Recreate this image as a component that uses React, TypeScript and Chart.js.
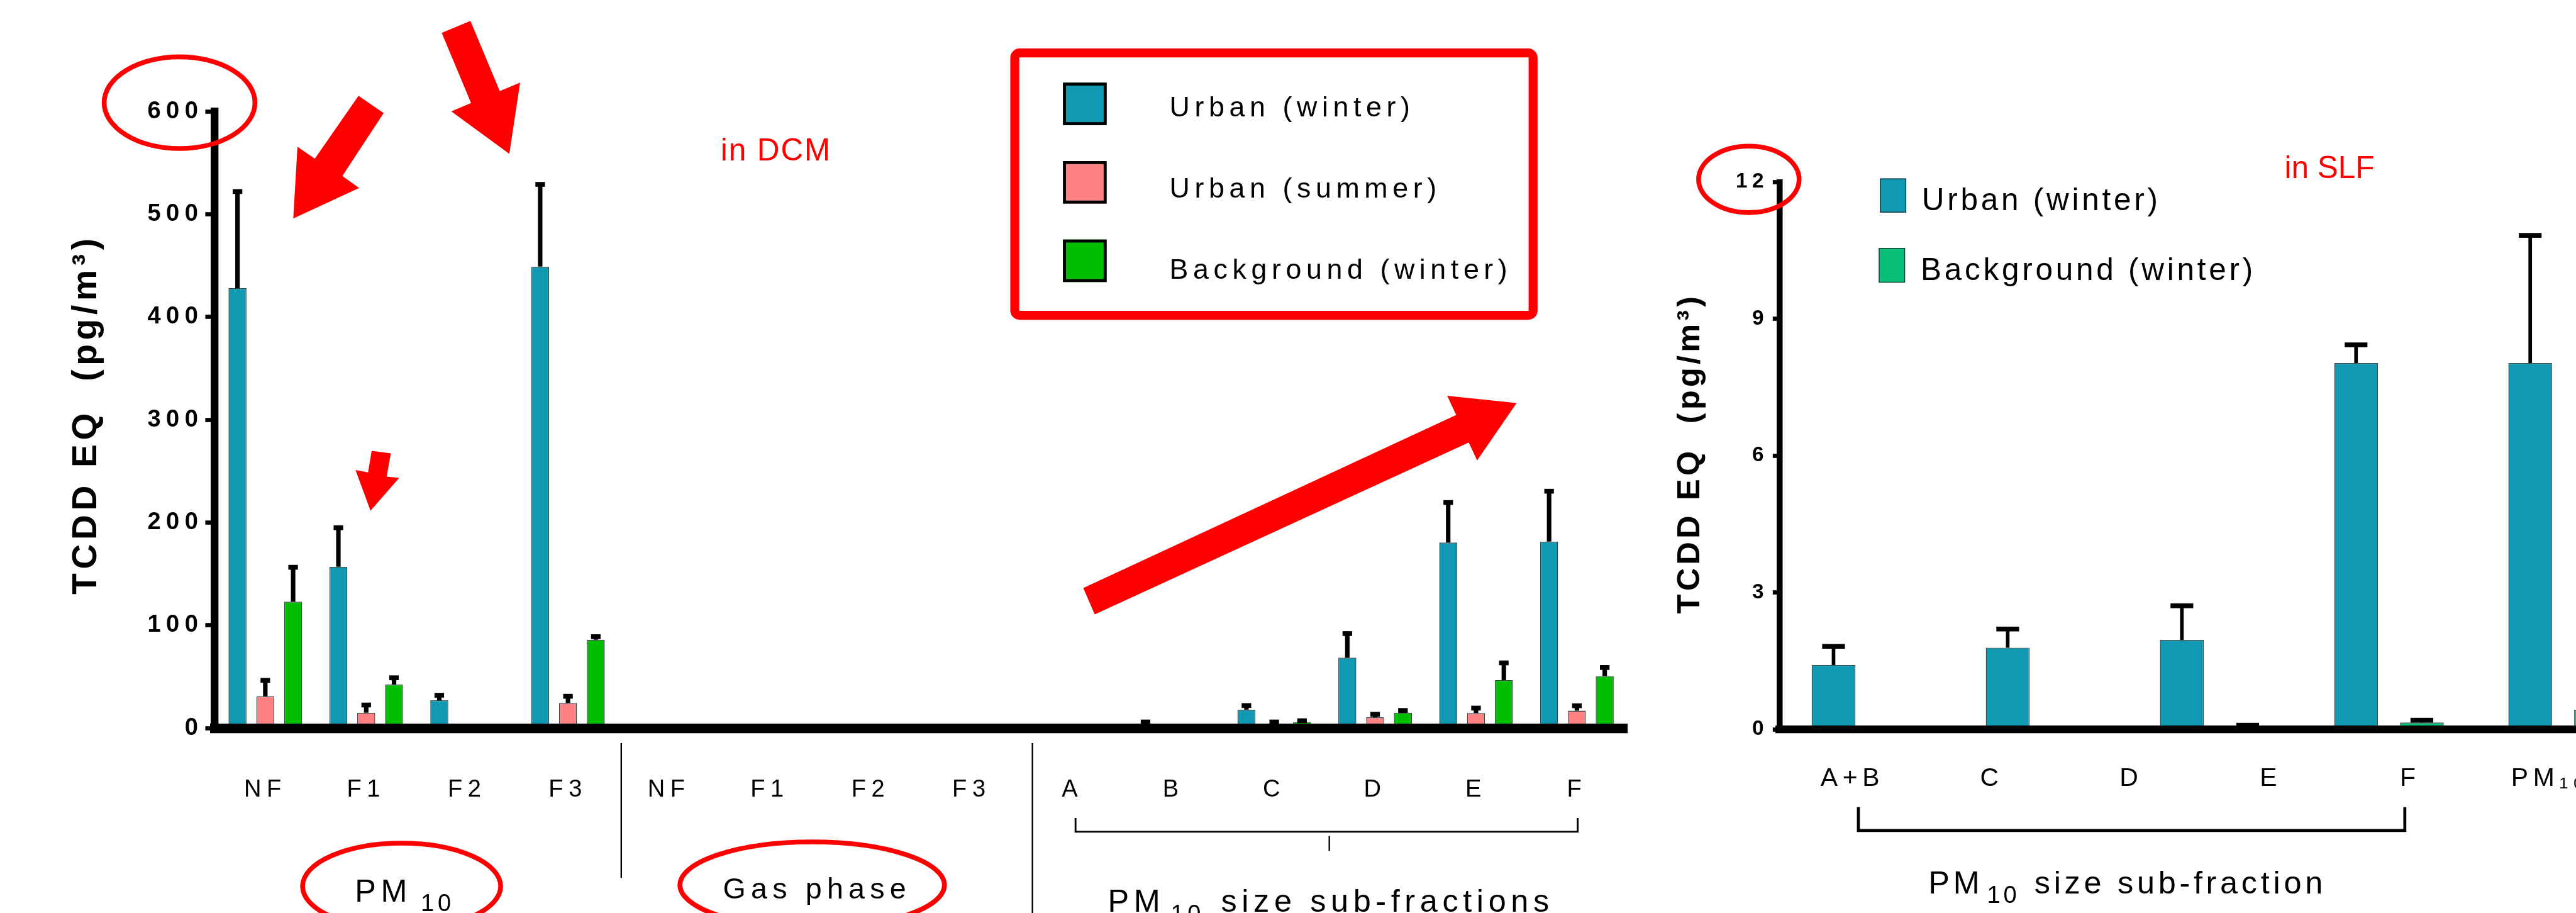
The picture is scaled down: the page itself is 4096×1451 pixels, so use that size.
import React, { useEffect, useRef } from 'react';
import { Chart, registerables } from 'chart.js';

Chart.register(...registerables);

const S = 4096 / 4304;
const VIEW_W = 4096;
const VIEW_H = 1451;
const FONT = '"Liberation Sans", Arial, Helvetica, sans-serif';

const TEAL = '#1099b3';
const PINK = '#ff8282';
const GREEN = '#00be00';
const SEA_GREEN = '#0abf78';
const RED = '#ff0000';
const EDGE = 'rgba(20,40,45,0.85)';

// ---------- Left panel: TCDD EQ in DCM (pg/m3) ----------
const dcmCategories = ['NF', 'F1', 'F2', 'F3', 'NF', 'F1', 'F2', 'F3', 'A', 'B', 'C', 'D', 'E', 'F'];
const dcmUrbanWinter = [428, 157, 27, 449, 0, 0, 0, 0, 0, 0, 18, 68.5, 180.5, 181.5];
const dcmUrbanWinterSD = [94, 38, 5, 80, 0, 0, 0, 0, 0, 6, 4, 23.5, 39, 49];
const dcmUrbanSummer = [31, 15, 0, 24.5, 0, 0, 0, 0, 0, 0, 2, 10.5, 14.7, 17];
const dcmUrbanSummerSD = [15.5, 7.5, 0, 6.5, 0, 0, 0, 0, 0, 0, 4, 3, 4.8, 4.8];
const dcmBackgroundWinter = [123, 42.5, 0, 86, 0, 0, 0, 0, 0, 0, 6, 15, 46.7, 50.7];
const dcmBackgroundWinterSD = [33.5, 6.5, 0, 3, 0, 0, 0, 0, 0, 0, 1.2, 2.2, 16.8, 8.3];
const dcmAxisMax = 600;
const dcmAxisStep = 100;

// ---------- Right panel: TCDD EQ in SLF (pg/m3) ----------
const slfTickLabels = ['A+B', 'C', 'D', 'E', 'F', 'PM\u2081\u2080'];
const slfCategories = slfTickLabels.slice(0, 5);
const slfUrbanWinter = [1.41, 1.79, 1.96, 8.03, 8.03];
const slfUrbanWinterSD = [0.41, 0.41, 0.75, 0.4, 2.8];
const slfBackgroundWinter = [0, 0, 0.02, 0.15, 0.43];
const slfBackgroundWinterSD = [0, 0, 0.07, 0.05, 0];
const slfAxisMax = 12;
const slfAxisStep = 3;

const seriesNames = ['Urban (winter)', 'Urban (summer)', 'Background (winter)'];
const yTitle = 'TCDD EQ  (pg/m\u00b3)';

// canvas geometry (device px)
const L_W = Math.round(2760 * S);
const R_LEFT = 2608;
const R_W = 1640;
const R_X0 = R_LEFT / S; // reference x of right canvas origin

type Pt = [number, number];

function painter(ctx: CanvasRenderingContext2D, x0: number) {
  const X = (v: number) => (v - x0) * S;
  const Y = (v: number) => v * S;
  const font = (size: number, weight = 'normal') => `${weight} ${size * S}px ${FONT}`;
  return {
    text(t: string, x: number, y: number, size: number, o: any = {}) {
      ctx.save();
      ctx.font = font(size, o.weight);
      ctx.fillStyle = o.color ?? '#000';
      ctx.textAlign = o.align ?? 'left';
      ctx.textBaseline = 'alphabetic';
      (ctx as any).letterSpacing = `${(o.spacing ?? 0) * S}px`;
      ctx.fillText(t, X(x), Y(y));
      ctx.restore();
    },
    vtext(t: string, x: number, y: number, size: number, o: any = {}) {
      ctx.save();
      ctx.translate(X(x), Y(y));
      ctx.rotate(-Math.PI / 2);
      ctx.font = font(size, o.weight);
      ctx.fillStyle = o.color ?? '#000';
      ctx.textAlign = 'center';
      ctx.textBaseline = 'alphabetic';
      (ctx as any).letterSpacing = `${(o.spacing ?? 0) * S}px`;
      ctx.fillText(t, 0, 0);
      ctx.restore();
    },
    poly(pts: Pt[], color = RED) {
      ctx.save();
      ctx.beginPath();
      pts.forEach(([x, y], i) => (i ? ctx.lineTo(X(x), Y(y)) : ctx.moveTo(X(x), Y(y))));
      ctx.closePath();
      ctx.fillStyle = color;
      ctx.fill();
      ctx.restore();
    },
    ellipse(cx: number, cy: number, rx: number, ry: number, lw = 8, color = RED) {
      ctx.save();
      ctx.beginPath();
      ctx.ellipse(X(cx), Y(cy), rx * S, ry * S, 0, 0, Math.PI * 2);
      ctx.lineWidth = lw * S;
      ctx.strokeStyle = color;
      ctx.stroke();
      ctx.restore();
    },
    line(pts: Pt[], lw: number, color = '#000') {
      ctx.save();
      ctx.beginPath();
      pts.forEach(([x, y], i) => (i ? ctx.lineTo(X(x), Y(y)) : ctx.moveTo(X(x), Y(y))));
      ctx.lineWidth = lw * S;
      ctx.strokeStyle = color;
      ctx.lineCap = 'butt';
      ctx.lineJoin = 'miter';
      ctx.stroke();
      ctx.restore();
    },
    swatch(x: number, y: number, w: number, h: number, fill: string, lw: number, edge = '#000') {
      ctx.save();
      ctx.fillStyle = fill;
      ctx.fillRect(X(x), Y(y), w * S, h * S);
      ctx.lineWidth = lw * S;
      ctx.strokeStyle = edge;
      ctx.strokeRect(X(x + lw / 2), Y(y + lw / 2), (w - lw) * S, (h - lw) * S);
      ctx.restore();
    },
    roundBox(x: number, y: number, w: number, h: number, r: number, lw: number, color = RED) {
      ctx.save();
      ctx.beginPath();
      (ctx as any).roundRect(X(x), Y(y), w * S, h * S, r * S);
      ctx.lineWidth = lw * S;
      ctx.strokeStyle = color;
      ctx.stroke();
      ctx.restore();
    },
  };
}

const textSpacing = (px: number) => ({
  id: 'textSpacing',
  beforeDraw(chart: any) {
    chart.ctx.letterSpacing = `${px * S}px`;
  },
  afterDraw(chart: any) {
    chart.ctx.letterSpacing = '0px';
  },
});

const errorBars = (errs: number[][], lw: number, capW: number, capH: number) => ({
  id: 'errorBars',
  afterDatasetsDraw(chart: any) {
    const ctx = chart.ctx as CanvasRenderingContext2D;
    const y = chart.scales.y;
    ctx.save();
    ctx.fillStyle = '#000';
    chart.data.datasets.forEach((ds: any, i: number) => {
      const sd = errs[i];
      if (!sd) return;
      const meta = chart.getDatasetMeta(i);
      meta.data.forEach((el: any, j: number) => {
        const e = sd[j];
        if (!e) return;
        const v = ds.data[j] as number;
        const yTop = y.getPixelForValue(v + e);
        const yBar = y.getPixelForValue(v);
        ctx.fillRect(el.x - (lw * S) / 2, yTop, lw * S, yBar - yTop);
        ctx.fillRect(el.x - (capW * S) / 2, yTop - (capH * S) / 2, capW * S, capH * S);
      });
    });
    ctx.restore();
  },
});

const leftDecor = {
  id: 'leftDecor',
  afterDraw(chart: any) {
    const p = painter(chart.ctx, 0);
    // y title
    p.vtext(yTitle, 161, 692, 58, { weight: 'bold', spacing: 7 });
    // circled max value
    p.ellipse(300, 171.5, 126, 76.5);
    // arrows
    p.poly([[599, 160], [641, 189], [572, 294], [600, 314], [490, 365], [497, 245], [526, 265]]);
    p.poly([[738, 55], [786, 35], [835, 152], [869, 138], [851, 257], [754, 186], [787, 172]]);
    p.poly([[621, 753], [653, 757], [646, 796], [667, 798], [619, 853], [594, 785], [615, 789]]);
    p.poly([[1810, 982], [2433, 693], [2418, 661], [2534, 673], [2468, 769], [2454, 739], [1829, 1026]]);
    // annotation
    p.text('in DCM', 1204, 268, 52, { color: RED, spacing: 2 });
    // legend
    p.roundBox(1695.5, 88.5, 866, 438, 8, 15);
    const cols = [TEAL, PINK, GREEN];
    const swY = [138, 269, 400];
    const txY = [194, 330, 465];
    seriesNames.forEach((n, i) => {
      p.swatch(1776, swY[i], 73, 71, cols[i], 5);
      p.text(n, 1954, txY[i], 47, { spacing: 8 });
    });
    // separators and bracket
    p.line([[1038, 1241], [1038, 1466]], 2.5);
    p.line([[1725, 1241], [1725, 1530]], 2.5);
    p.line([[1797, 1366], [1797, 1389], [2636, 1389], [2636, 1366]], 3);
    p.line([[2221, 1396], [2221, 1421]], 2.5);
    // group labels
    p.ellipse(671, 1480, 165.5, 72);
    p.text('PM', 593, 1506, 53, { spacing: 8 });
    p.text('10', 703, 1522, 40, { spacing: 6 });
    p.ellipse(1357, 1478, 221, 72);
    p.text('Gas phase', 1208, 1500, 49, { spacing: 8.6 });
    p.text('PM', 1851, 1523, 53, { spacing: 8 });
    p.text('10', 1956, 1539, 40, { spacing: 6 });
    p.text('size sub-fractions', 2040, 1523, 53, { spacing: 8 });
  },
};

const rightDecor = {
  id: 'rightDecor',
  afterDraw(chart: any) {
    const p = painter(chart.ctx, R_X0);
    p.vtext(yTitle, 2839, 757, 53, { weight: 'bold', spacing: 5.5 });
    p.ellipse(2922, 299.5, 84, 55.5);
    p.swatch(3141, 298, 44, 57, TEAL, 1.5, EDGE);
    p.text(seriesNames[0], 3211, 351, 52, { spacing: 5 });
    p.swatch(3139, 414, 44, 58, SEA_GREEN, 1.5, EDGE);
    p.text(seriesNames[2], 3209, 468, 52, { spacing: 5 });
    p.text('in SLF', 3817, 297, 52, { color: RED });
    p.line([[3105, 1348], [3105, 1387], [4018, 1387], [4018, 1348]], 5);
    p.text('PM', 3222, 1492, 53, { spacing: 6 });
    p.text('10', 3320, 1508, 40, { spacing: 5 });
    p.text('size sub-fraction', 3399, 1492, 53, { spacing: 6 });
  },
};

function barSet(label: string, data: number[], color: string, cp: number, bp: number) {
  return {
    label,
    data,
    backgroundColor: color,
    borderColor: EDGE,
    borderWidth: 1.5 * S,
    categoryPercentage: cp,
    barPercentage: bp,
  };
}

function buildLeft(canvas: HTMLCanvasElement) {
  const area = { left: 359, top: 186, right: 2719, bottom: 1216 };
  return new Chart(canvas, {
    type: 'bar',
    data: {
      labels: dcmCategories,
      datasets: [
        barSet(seriesNames[0], dcmUrbanWinter, TEAL, 0.827, 0.645),
        barSet(seriesNames[1], dcmUrbanSummer, PINK, 0.827, 0.645),
        barSet(seriesNames[2], dcmBackgroundWinter, GREEN, 0.827, 0.645),
      ],
    } as any,
    options: {
      responsive: false,
      animation: false,
      devicePixelRatio: 1,
      events: [],
      layout: { padding: { left: 0, top: area.top * S, right: L_W - area.right * S, bottom: 0 } },
      plugins: { legend: { display: false }, tooltip: { enabled: false }, title: { display: false } },
      scales: {
        x: {
          type: 'category',
          offset: true,
          grid: { display: true, drawOnChartArea: false, drawTicks: false },
          border: { display: true, color: '#000', width: 16 * S, z: 1 },
          ticks: {
            font: { family: FONT, size: 40 * S },
            color: '#000',
            padding: 79.5 * S,
            autoSkip: false,
            maxRotation: 0,
            minRotation: 0,
          },
          afterFit: (s: any) => {
            s.height = VIEW_H - area.bottom * S;
          },
        },
        y: {
          min: 0,
          max: dcmAxisMax,
          ticks: {
            stepSize: dcmAxisStep,
            font: { family: FONT, size: 40 * S, weight: 'bold' },
            color: '#000',
            padding: 3 * S,
          },
          grid: { drawOnChartArea: false, drawTicks: true, tickLength: 16 * S, tickWidth: 7 * S, tickColor: '#000' },
          border: { display: true, color: '#000', width: 13 * S, z: 1 },
          afterFit: (s: any) => {
            s.width = area.left * S;
          },
        },
      },
    } as any,
    plugins: [textSpacing(9), errorBars([dcmUrbanWinterSD, dcmUrbanSummerSD, dcmBackgroundWinterSD], 7.5, 16, 8), leftDecor],
  });
}

function buildRight(canvas: HTMLCanvasElement) {
  const area = { left: 2973, top: 304, right: 4428, bottom: 1218 };
  const labelFirst = 3095;
  const labelStep = 233;
  const lMin = -(labelFirst - area.left) / labelStep;
  const lMax = lMin + (area.right - area.left) / labelStep;
  return new Chart(canvas, {
    type: 'bar',
    data: {
      labels: slfCategories,
      datasets: [
        barSet(seriesNames[0], slfUrbanWinter, TEAL, 0.756, 0.664),
        barSet(seriesNames[2], slfBackgroundWinter, SEA_GREEN, 0.756, 0.664),
      ],
    } as any,
    options: {
      responsive: false,
      animation: false,
      devicePixelRatio: 1,
      events: [],
      layout: {
        padding: { left: 0, top: area.top * S, right: R_W - (area.right - R_X0) * S, bottom: 0 },
      },
      plugins: { legend: { display: false }, tooltip: { enabled: false }, title: { display: false } },
      scales: {
        x: { type: 'category', display: false, offset: true },
        xl: {
          type: 'linear',
          position: 'bottom',
          bounds: 'data',
          offset: false,
          min: lMin,
          max: lMax,
          afterBuildTicks: (s: any) => {
            s.ticks = slfTickLabels.map((_, i) => ({ value: i }));
          },
          ticks: {
            callback: (v: any) => slfTickLabels[Math.round(v)] ?? '',
            font: { family: FONT, size: 43 * S },
            color: '#000',
            padding: 56.7 * S,
            autoSkip: false,
            maxRotation: 0,
            minRotation: 0,
          },
          grid: { display: true, offset: false, drawOnChartArea: false, drawTicks: false },
          border: { display: true, color: '#000', width: 13 * S, z: 1 },
          afterFit: (s: any) => {
            s.height = VIEW_H - area.bottom * S;
          },
        },
        y: {
          min: 0,
          max: slfAxisMax,
          ticks: {
            stepSize: slfAxisStep,
            font: { family: FONT, size: 35 * S, weight: 'bold' },
            color: '#000',
            padding: 7 * S,
          },
          grid: { drawOnChartArea: false, drawTicks: true, tickLength: 11 * S, tickWidth: 7 * S, tickColor: '#000' },
          border: { display: true, color: '#000', width: 10 * S, z: 1 },
          afterFit: (s: any) => {
            s.width = (area.left - R_X0) * S;
          },
        },
      },
    } as any,
    plugins: [textSpacing(8), errorBars([slfUrbanWinterSD, slfBackgroundWinterSD], 6, 38, 8), rightDecor],
  });
}

export default function App() {
  const leftRef = useRef<HTMLCanvasElement>(null);
  const rightRef = useRef<HTMLCanvasElement>(null);
  useEffect(() => {
    const charts = [buildLeft(leftRef.current!), buildRight(rightRef.current!)];
    return () => charts.forEach((c) => c.destroy());
  }, []);
  return (
    <div
      style={{
        position: 'fixed',
        left: 0,
        top: 0,
        width: VIEW_W,
        height: VIEW_H,
        overflow: 'hidden',
        background: '#fff',
      }}
    >
      <canvas
        ref={leftRef}
        width={L_W}
        height={VIEW_H}
        style={{ position: 'absolute', left: 0, top: 0, width: L_W, height: VIEW_H }}
      />
      <canvas
        ref={rightRef}
        width={R_W}
        height={VIEW_H}
        style={{ position: 'absolute', left: R_LEFT, top: 0, width: R_W, height: VIEW_H }}
      />
    </div>
  );
}
